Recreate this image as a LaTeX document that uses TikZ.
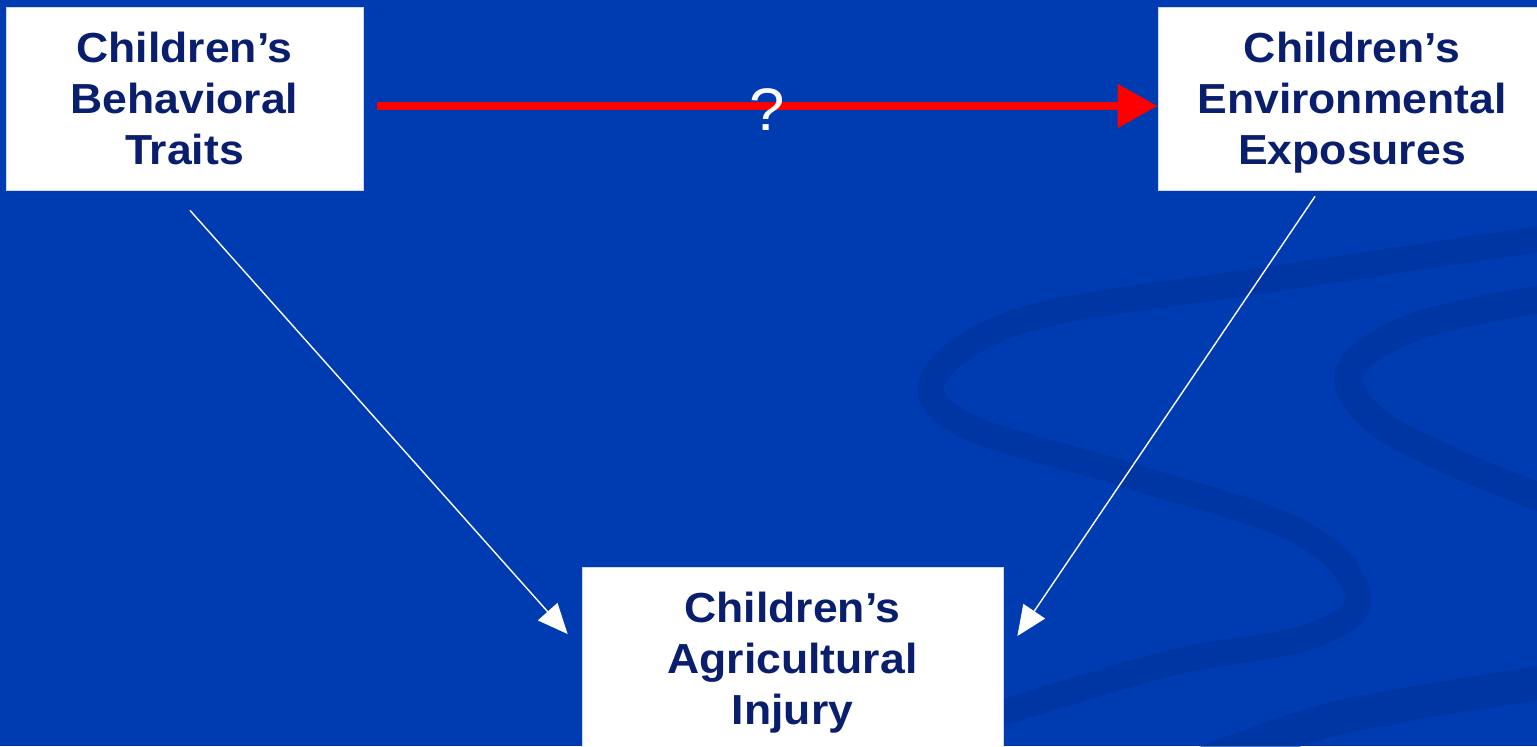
\documentclass[tikz,border=0pt]{standalone}
\usepackage{fontspec}
\setmainfont{Liberation Sans}[FakeStretch=1.06]
\usetikzlibrary{arrows.meta}
\definecolor{bgblue}{RGB}{0,60,177}
\definecolor{swirl}{RGB}{0,52,158}
\definecolor{navy}{RGB}{10,30,110}
\definecolor{redline}{RGB}{255,0,0}
\tikzset{
  box/.style={fill=white, draw=white!80!bgblue, line width=0.4pt, align=center,
    text=navy, font=\bfseries\fontsize{21}{25.5}\selectfont,
    minimum height=91.5pt, inner sep=0pt, text depth=-2pt},
  redarrow/.style={draw=redline, line width=4pt,
    -{Triangle[length=20pt,width=21pt]}},
  whitearrow/.style={draw=white, line width=0.7pt,
    -{Triangle[length=15pt,width=13pt]}},
  swirlband/.style={draw=swirl, line cap=round, opacity=0.65},
  qmark/.style={text=white, font=\fontsize{30}{30}\selectfont, inner sep=0pt}
}
\begin{document}
\begin{tikzpicture}[x=0.5pt,y=-0.5pt]
\useasboundingbox (0,0) rectangle (1537,746);
\fill[bgblue] (0,0) rectangle (1537,746);
% background swirl
\begin{scope}
\clip (0,0) rectangle (1537,746);
\draw[swirlband, line width=13pt] plot[smooth, tension=0.6] coordinates
  {(1560,236) (1266,280) (1030,318) (935,375) (965,425) (1124,474) (1300,532) (1358,598) (1308,637) (1171,663) (1000,713) (860,752)};
\draw[swirlband, line width=14pt] plot[smooth, tension=0.6] coordinates
  {(1560,296) (1420,325) (1350,370) (1375,420) (1460,465) (1560,505)};
\draw[swirlband, line width=17pt] plot[smooth, tension=0.6] coordinates
  {(1200,765) (1342,717) (1560,680)};
\end{scope}
% boxes
\node[box, minimum width=178.5pt] (b1) at (184.5,98.5) {Children’s\\Behavioral\\Traits};
\node[box, minimum width=194pt] (b2) at (1352,98.5) {Children’s\\Environmental\\Exposures};
\node[box, minimum width=210.5pt] (b3) at (792.5,658.5) {Children’s\\Agricultural\\Injury};
% connectors
\draw[redarrow] ([xshift=7pt,yshift=-3.75pt]b1.east) -- ([yshift=-3.75pt]b2.west);
\node[qmark] (q) at (767,110) {?};
\draw[whitearrow] ([xshift=2.75pt,yshift=-10pt]b1.south) -- ([xshift=-7pt,yshift=12.25pt]b3.west);
\draw[whitearrow] ([xshift=-18.5pt,yshift=-3pt]b2.south) -- ([xshift=7pt,yshift=11.25pt]b3.east);
\end{tikzpicture}
\end{document}
